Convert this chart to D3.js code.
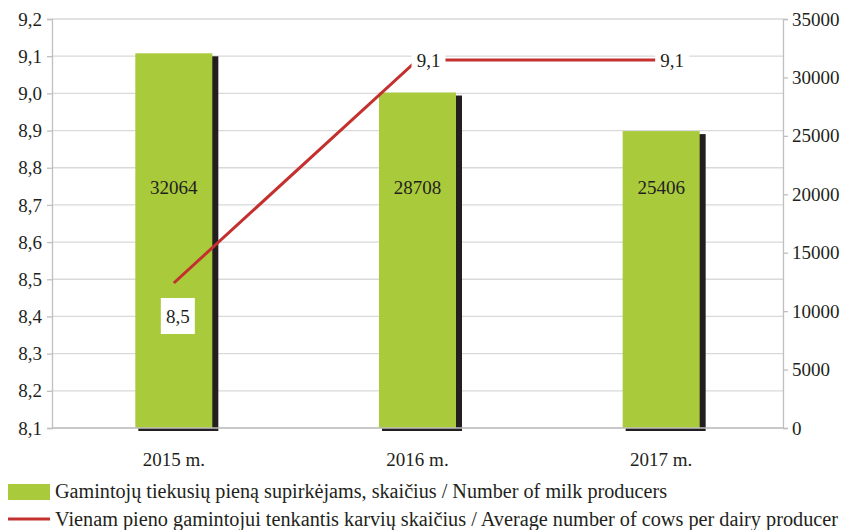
<!DOCTYPE html>
<html><head><meta charset="utf-8">
<script src="https://cdn.jsdelivr.net/npm/d3@7"></script>
<style>body{margin:0;background:#fff}svg{display:block}svg text{font-family:"Liberation Serif","Times New Roman",serif !important;fill:#231f20}</style>
</head><body><svg id="c" width="849" height="530" font-family="Liberation Serif, serif"></svg>
<script>
const categories = ["2015 m.", "2016 m.", "2017 m."];
const producers = [32064, 28708, 25406];
const cowsPerProducer = [8.49, 9.09, 9.09];
const leftTicks = [8.1, 8.2, 8.3, 8.4, 8.5, 8.6, 8.7, 8.8, 8.9, 9.0, 9.1, 9.2];
const rightTicks = [0, 5000, 10000, 15000, 20000, 25000, 30000, 35000];
const legendLabels = [
  "Gamintojų tiekusių pieną supirkėjams, skaičius / Number of milk producers",
  "Vienam pieno gamintojui tenkantis karvių skaičius / Average number of cows per dairy producer"
];

const svg = d3.select("#c");
const L = 52, R = 783, T = 19, B = 428;
const x = d3.scaleBand().domain(categories).range([L, R]).padding(0);
const yL = d3.scaleLinear().domain([8.1, 9.2]).range([B, T]);
const yR = d3.scaleLinear().domain([0, 35000]).range([B, T]);
const fmtL = v => d3.format(".1f")(v).replace(".", ",");
const green = "#a9ca3b", red = "#c3302e", grid = "#d9d9d9", axisC = "#bfbfbf";

// gridlines
svg.append("g").selectAll("line").data(leftTicks).join("line")
  .attr("x1", L).attr("x2", R).attr("y1", d => yL(d)).attr("y2", d => yL(d))
  .attr("stroke", grid).attr("stroke-width", 1.3);

// left axis
const gl = svg.append("g").attr("transform", `translate(${L},0)`)
  .call(d3.axisLeft(yL).tickValues(leftTicks).tickFormat(fmtL).tickSize(5).tickPadding(5));
gl.attr("font-family", null).attr("font-size", null);
gl.select(".domain").attr("stroke", axisC).attr("stroke-width", 1.3);
gl.selectAll(".tick line").attr("stroke", axisC).attr("stroke-width", 1.3);
gl.selectAll("text").style("font-size", "19px").attr("fill", "#231f20");

// right axis
const gr = svg.append("g").attr("transform", `translate(${R},0)`)
  .call(d3.axisRight(yR).tickValues(rightTicks).tickFormat(d3.format("d")).tickSize(5).tickPadding(4));
gr.attr("font-family", null).attr("font-size", null);
gr.select(".domain").attr("stroke", axisC).attr("stroke-width", 1.3);
gr.selectAll(".tick line").attr("stroke", axisC).attr("stroke-width", 1.3);
gr.selectAll("text").style("font-size", "19px").attr("fill", "#231f20");

// bars
const bw = 77;
const bars = svg.append("g");
bars.selectAll(".sh").data(producers).join("rect").attr("class", "sh")
  .attr("x", (d, i) => x(categories[i]) + x.bandwidth() / 2 - bw / 2 + 3)
  .attr("y", d => yR(d) + 3).attr("width", bw + 3).attr("height", d => B - yR(d))
  .attr("fill", "#231f20");
bars.selectAll(".bar").data(producers).join("rect").attr("class", "bar")
  .attr("x", (d, i) => x(categories[i]) + x.bandwidth() / 2 - bw / 2)
  .attr("y", d => yR(d)).attr("width", bw).attr("height", d => B - yR(d))
  .attr("fill", green);

// bottom axis line
svg.append("line").attr("x1", L).attr("x2", R).attr("y1", B).attr("y2", B)
  .attr("stroke", axisC).attr("stroke-width", 1.3);

// bar labels
bars.selectAll(".bl").data(producers).join("text").attr("class", "bl")
  .attr("x", (d, i) => x(categories[i]) + x.bandwidth() / 2)
  .attr("y", yR(20600)).attr("dy", "0.35em").attr("text-anchor", "middle")
  .style("font-size", "19px").text(d => d);

// category labels
svg.append("g").selectAll("text").data(categories).join("text")
  .attr("x", d => x(d) + x.bandwidth() / 2).attr("y", 466).attr("text-anchor", "middle")
  .style("font-size", "19px").text(d => d);

// line
const pts = cowsPerProducer.map((v, i) => [x(categories[i]) + x.bandwidth() / 2, yL(v)]);
svg.append("path").attr("d", d3.line()(pts)).attr("fill", "none")
  .attr("stroke", red).attr("stroke-width", 3);

// line labels
const lbl = svg.append("g");
pts.forEach((p, i) => {
  const cx = i === 0 ? p[0] + 4 : p[0] + 11;
  const cy = i === 0 ? p[1] + 33 : p[1];
  lbl.append("rect").attr("x", cx - 17).attr("y", cy - 18).attr("width", 34).attr("height", 36).attr("fill", "#fff");
  lbl.append("text").attr("x", cx).attr("y", cy).attr("dy", "0.35em").attr("text-anchor", "middle")
    .style("font-size", "19px").text(fmtL(cowsPerProducer[i]));
});

// legend
const lg = svg.append("g");
lg.append("rect").attr("x", 8).attr("y", 484).attr("width", 42).attr("height", 16).attr("fill", green);
lg.append("line").attr("x1", 8).attr("x2", 50).attr("y1", 519).attr("y2", 519).attr("stroke", red).attr("stroke-width", 3);
const legendWidths = [612, 783];
lg.selectAll("text").data(legendLabels).join("text")
  .attr("x", 55).attr("y", (d, i) => 498 + i * 28)
  .attr("textLength", (d, i) => legendWidths[i]).attr("lengthAdjust", "spacingAndGlyphs")
  .style("font-size", "20px").text(d => d);
</script></body></html>
